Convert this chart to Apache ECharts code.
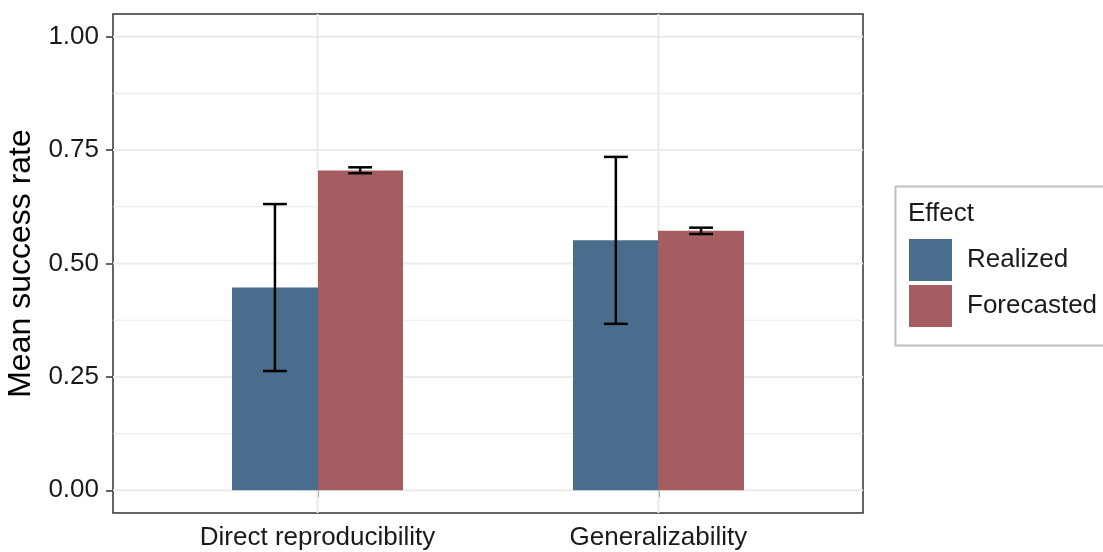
<!DOCTYPE html>
<html>
<head>
<meta charset="utf-8">
<script src="https://cdn.jsdelivr.net/npm/echarts@6/dist/echarts.min.js"></script>
<style>
html,body{margin:0;padding:0;background:#fff;}
#chart{width:1103px;height:552px;}
</style>
</head>
<body>
<div id="chart"></div>
<script>
const categories = ['Direct reproducibility', 'Generalizability'];
const seriesNames = ['Realized', 'Forecasted'];
const realized = [0.447, 0.551];
const realizedLow = [0.263, 0.367];
const realizedHigh = [0.631, 0.735];
const forecasted = [0.705, 0.572];
const forecastedLow = [0.699, 0.565];
const forecastedHigh = [0.712, 0.579];
const yTicks = [0, 0.25, 0.5, 0.75, 1];
const yMinor = [0.125, 0.375, 0.625, 0.875];
const yTickLabels = ['0.00', '0.25', '0.50', '0.75', '1.00'];

const FONT = "'Liberation Sans', Arial, sans-serif";
const BLUE = '#4a6c8d';
const RED = '#a45d61';
const X_MIN = 0.4, X_MAX = 2.6, BAR_W = 0.25, CAP_HALF = 0.035;

const chart = echarts.init(document.getElementById('chart'), null, {renderer: 'canvas'});

function barRender(params, api) {
  const x = api.value(0), v = api.value(1), off = api.value(2);
  const p0 = api.coord([x + off, v]);
  const p1 = api.coord([x + off + BAR_W, 0]);
  const x0 = Math.round(p0[0]), x1 = Math.round(p1[0]);
  return {type: 'rect', shape: {x: x0, y: p0[1], width: x1 - x0 + (off < 0 ? 1 : 0), height: p1[1] - p0[1]},
    style: {fill: api.visual('color')}};
}
function errRender(params, api) {
  const cx = api.value(0) + api.value(3) + BAR_W / 2;
  const lo = api.value(1), hi = api.value(2);
  const top = api.coord([cx, hi]), bot = api.coord([cx, lo]);
  const l = api.coord([cx - CAP_HALF, hi])[0], r = api.coord([cx + CAP_HALF, hi])[0];
  const st = {stroke: '#000', lineWidth: 2.5};
  return {type: 'group', children: [
    {type: 'line', shape: {x1: top[0], y1: top[1], x2: bot[0], y2: bot[1]}, style: st},
    {type: 'line', shape: {x1: l, y1: top[1], x2: r, y2: top[1]}, style: st},
    {type: 'line', shape: {x1: l, y1: bot[1], x2: r, y2: bot[1]}, style: st}
  ]};
}
function gridRender(params, api) {
  const kind = api.value(0), v = api.value(1), w = api.value(2);
  let a, b;
  if (kind === 0) { a = api.coord([X_MIN, v]); b = api.coord([X_MAX, v]); }
  else { a = api.coord([v, -0.05]); b = api.coord([v, 1.05]); }
  return {type: 'line', shape: {x1: a[0], y1: a[1], x2: b[0], y2: b[1]}, style: {stroke: '#ebebeb', lineWidth: w}};
}

const gridData = [];
yTicks.forEach(v => gridData.push([0, v, 2]));
yMinor.forEach(v => gridData.push([0, v, 1]));
categories.forEach((c, i) => gridData.push([1, i + 1, 2]));

const option = {
  animation: false,
  textStyle: {fontFamily: FONT},
  grid: {left: 113, right: 240, top: 14, bottom: 39, containLabel: false, outerBoundsMode: 'none',
    show: true, backgroundColor: '#fff', borderColor: '#333', borderWidth: 1.5},
  xAxis: {
    type: 'value', min: X_MIN, max: X_MAX,
    axisLine: {show: false},
    splitLine: {show: false},
    axisTick: {show: true, customValues: [1, 2], length: 7, lineStyle: {color: '#333', width: 1.5}},
    axisLabel: {customValues: [1, 2], margin: 12, fontSize: 26, color: '#1a1a1a', fontFamily: FONT,
      formatter: v => categories[Math.round(v) - 1] || ''}
  },
  yAxis: {
    type: 'value', min: -0.05, max: 1.05,
    name: 'Mean success rate', nameLocation: 'middle', nameGap: 64,
    nameTextStyle: {fontSize: 32, color: '#000', fontFamily: FONT},
    axisLine: {show: false},
    splitLine: {show: false},
    axisTick: {show: true, customValues: yTicks, length: 7, lineStyle: {color: '#333', width: 1.5}},
    axisLabel: {customValues: yTicks, margin: 14, fontSize: 26, color: '#1a1a1a', fontFamily: FONT,
      formatter: v => { const i = yTicks.findIndex(t => Math.abs(t - v) < 1e-9); return i >= 0 ? yTickLabels[i] : ''; }}
  },
  legend: {
    data: seriesNames, orient: 'vertical', left: 909, top: 239,
    icon: 'rect', itemWidth: 43, itemHeight: 42, itemGap: 4, padding: 0,
    textStyle: {fontSize: 26, color: '#1a1a1a', fontFamily: FONT, padding: [0, 0, 0, 10]},
    selectedMode: false
  },
  graphic: [
    {type: 'rect', left: 893, top: 184, shape: {width: 230, height: 159}, style: {fill: 'none', stroke: '#bdbdbd', lineWidth: 2}, z: 0},
    {type: 'text', left: 908, top: 201, style: {text: 'Effect', fontSize: 26, fontFamily: FONT, fill: '#1a1a1a'}}
  ],
  series: [
    {type: 'custom', name: 'grid', renderItem: gridRender, data: gridData, silent: true, z: 1, clip: true,
      encode: {x: -1, y: -1}},
    {type: 'custom', name: 'Realized', itemStyle: {color: BLUE}, renderItem: barRender, z: 2,
      data: realized.map((v, i) => [i + 1, v, -BAR_W]), encode: {x: 0, y: 1}},
    {type: 'custom', name: 'Forecasted', itemStyle: {color: RED}, renderItem: barRender, z: 2,
      data: forecasted.map((v, i) => [i + 1, v, 0]), encode: {x: 0, y: 1}},
    {type: 'custom', name: 'errR', renderItem: errRender, z: 3, silent: true,
      data: realized.map((v, i) => [i + 1, realizedLow[i], realizedHigh[i], -BAR_W]), encode: {x: 0, y: [1, 2]}},
    {type: 'custom', name: 'errF', renderItem: errRender, z: 3, silent: true,
      data: forecasted.map((v, i) => [i + 1, forecastedLow[i], forecastedHigh[i], 0]), encode: {x: 0, y: [1, 2]}}
  ]
};
chart.setOption(option);
</script>
</body>
</html>
